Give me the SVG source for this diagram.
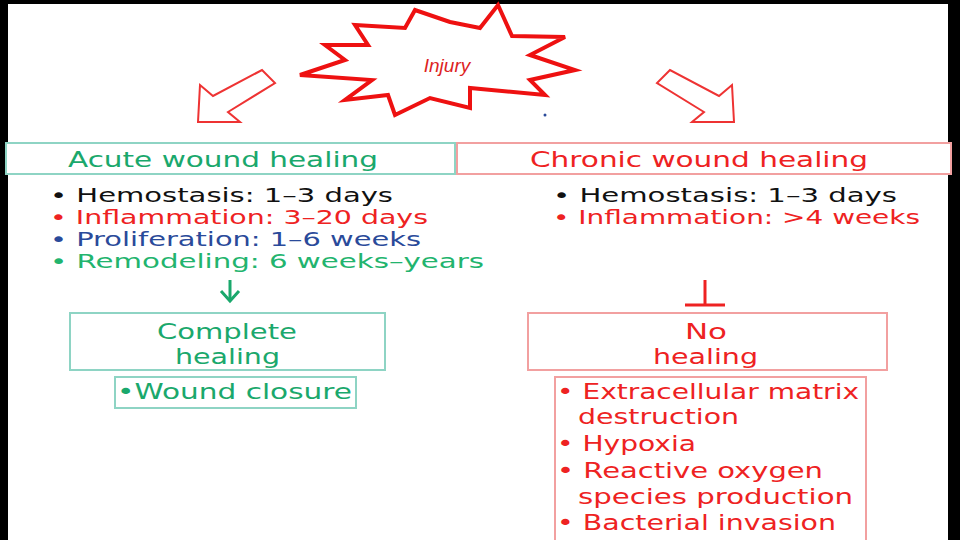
<svg xmlns="http://www.w3.org/2000/svg" width="960" height="540" viewBox="0 0 960 540">
<style>
text{font-family:"DejaVu Sans","Liberation Sans",sans-serif;font-size:21px}
.s{font-size:19px}
.g{fill:#1aa86c}.r{fill:#ee2222}.k{fill:#111}.b{fill:#2a4a9a}.t{fill:#22b46e}
.gb{fill:#fff;stroke:#8ed4c4;stroke-width:2}.rb{fill:#fff;stroke:#f2a0a0;stroke-width:2}
</style>
<rect width="960" height="540" fill="#000"/>
<rect x="8" y="4" width="940" height="536" fill="#fff"/>
<g id="injury">
<polygon points="450,22 480,28 498,5 512,36 565,37 530,55 575,70 530,80 545,95 470,88 470,108 430,98 395,115 388,95 345,100 372,80 300,75 345,60 325,45 368,45 355,25 405,28 415,10" fill="#fff" stroke="#ee1111" stroke-width="4" stroke-linejoin="miter"/>
<text x="447" y="72" text-anchor="middle" style="font-style:italic;font-size:19px;font-family:'Liberation Sans',sans-serif" fill="#d22">Injury</text>
</g>
<g id="connectors" fill="#fff" stroke="#ee3333" stroke-width="2">
<polygon points="262,70 275,83 228,112 240,122 198,122 200,85 213,96"/>
<polygon points="698,70 685,83 732,112 720,122 762,122 760,85 747,96" transform="translate(-28,0)"/>
<line x1="230" y1="280" x2="230" y2="300" stroke="#1aa86c" stroke-width="3"/>
<polyline points="221,291 230,301 239,291" fill="none" stroke="#1aa86c" stroke-width="3"/>
<line x1="705" y1="280" x2="705" y2="305" stroke="#ee2222" stroke-width="3"/>
<line x1="685" y1="305" x2="725" y2="305" stroke="#ee2222" stroke-width="3"/>
</g>
<g id="acute">
<rect x="6" y="143" width="449" height="31" class="gb"/>
<text x="68" y="167" class="g" textLength="310" lengthAdjust="spacingAndGlyphs">Acute wound healing</text>
<text x="50" y="202" class="k s" textLength="343" lengthAdjust="spacingAndGlyphs">• Hemostasis: 1–3 days</text>
<text x="50" y="224" class="r s" textLength="378" lengthAdjust="spacingAndGlyphs">• Inflammation: 3–20 days</text>
<text x="50" y="246" class="b s" textLength="371" lengthAdjust="spacingAndGlyphs">• Proliferation: 1–6 weeks</text>
<text x="50" y="268" class="t s" textLength="434" lengthAdjust="spacingAndGlyphs">• Remodeling: 6 weeks–years</text>
</g>
<g id="chronic">
<rect x="457" y="143" width="494" height="31" class="rb"/>
<text x="530" y="167" class="r" textLength="338" lengthAdjust="spacingAndGlyphs">Chronic wound healing</text>
<text x="553" y="202" class="k s" textLength="344" lengthAdjust="spacingAndGlyphs">• Hemostasis: 1–3 days</text>
<text x="553" y="224" class="r s" textLength="367" lengthAdjust="spacingAndGlyphs">• Inflammation: &gt;4 weeks</text>
</g>
<g id="complete">
<rect x="70" y="313" width="315" height="57" class="gb"/>
<text x="157" y="339" class="g" textLength="140" lengthAdjust="spacingAndGlyphs">Complete</text>
<text x="175" y="364" class="g" textLength="105" lengthAdjust="spacingAndGlyphs">healing</text>
</g>
<g id="closure">
<rect x="115" y="377" width="241" height="31" class="gb"/>
<text x="117" y="399" class="g" textLength="235" lengthAdjust="spacingAndGlyphs">•Wound closure</text>
</g>
<g id="nohealing">
<rect x="528" y="313" width="359" height="57" class="rb"/>
<text x="685" y="339" class="r" textLength="42" lengthAdjust="spacingAndGlyphs">No</text>
<text x="653" y="364" class="r" textLength="105" lengthAdjust="spacingAndGlyphs">healing</text>
</g>
<g id="causes">
<rect x="555" y="377" width="311" height="170" class="rb"/>
<text x="557" y="399" class="r" textLength="302" lengthAdjust="spacingAndGlyphs">• Extracellular matrix</text>
<text x="578" y="424" class="r" textLength="161" lengthAdjust="spacingAndGlyphs">destruction</text>
<text x="557" y="451" class="r" textLength="139" lengthAdjust="spacingAndGlyphs">• Hypoxia</text>
<text x="557" y="478" class="r" textLength="266" lengthAdjust="spacingAndGlyphs">• Reactive oxygen</text>
<text x="578" y="504" class="r" textLength="275" lengthAdjust="spacingAndGlyphs">species production</text>
<text x="557" y="530" class="r" textLength="279" lengthAdjust="spacingAndGlyphs">• Bacterial invasion</text>
</g>
<circle cx="545" cy="115" r="1.5" fill="#2a4a9a"/>
</svg>
